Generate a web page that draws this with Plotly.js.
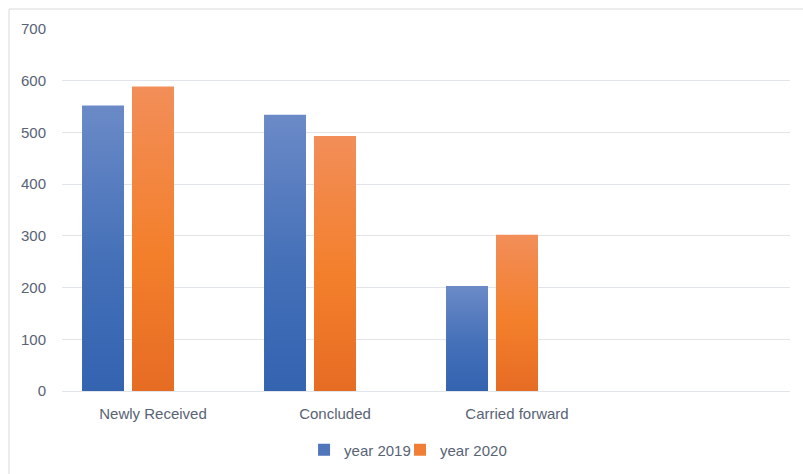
<!DOCTYPE html>
<html>
<head>
<meta charset="utf-8">
<script src="https://cdn.plot.ly/plotly-3.0.1.min.js"></script>
<style>html,body{margin:0;padding:0;background:#fff;}#chart{width:803px;height:474px;}</style>
</head>
<body>
<div id="chart"></div>
<script>
const categories = ["Newly Received", "Concluded", "Carried forward"];
const year2019 = [552, 534, 203];
const year2020 = [589, 493, 302];
const emptySeries = [0, 0, 0];
const seriesNames = ["year 2019", "year 2020"];
const yTicks = [0, 100, 200, 300, 400, 500, 600, 700];

const textColor = "#586374";
const gridColor = "#e1e5ea";
const fontFam = "Liberation Sans, Arial, sans-serif";

const traces = [
  {type: "bar", name: seriesNames[0], x: categories, y: year2019, legend: "legend",
   marker: {color: "#4f75bb", line: {width: 0}}, hoverinfo: "skip"},
  {type: "bar", name: seriesNames[1], x: categories, y: year2020, legend: "legend2",
   marker: {color: "#f07f35", line: {width: 0}}, hoverinfo: "skip"},
  {type: "bar", name: "", x: categories, y: emptySeries, showlegend: false,
   marker: {color: "rgba(0,0,0,0)", line: {width: 0}}, hoverinfo: "skip"}
];

const legendBase = {orientation: "h", xanchor: "left", yref: "container", y: 0.0506, yanchor: "middle",
                    font: {family: fontFam, size: 15, color: textColor}, itemclick: false,
                    bgcolor: "rgba(0,0,0,0)"};

const layout = {
  width: 803, height: 474,
  margin: {l: 62, r: 13, t: 29, b: 83},
  paper_bgcolor: "#ffffff", plot_bgcolor: "#ffffff",
  font: {family: fontFam, size: 15, color: textColor},
  barmode: "group", bargap: 0.176, bargroupgap: 0.16,
  showlegend: true,
  legend: Object.assign({}, legendBase, {x: 0.3325}),
  legend2: Object.assign({}, legendBase, {x: 0.4643}),
  xaxis: {type: "category", categoryarray: categories, categoryorder: "array",
          range: [-0.5, 3.5], showgrid: false, showline: true, linecolor: gridColor, linewidth: 1,
          ticks: "", ticklabelstandoff: 9, zeroline: false,
          tickfont: {family: fontFam, size: 15, color: textColor}},
  yaxis: {range: [0, 700], tickvals: yTicks, ticktext: yTicks.map(String),
          showgrid: true, gridcolor: gridColor, gridwidth: 1, zeroline: false, showline: false,
          ticks: "", ticklabelstandoff: 15,
          tickfont: {family: fontFam, size: 15, color: textColor}},
  shapes: [{type: "rect", xref: "paper", yref: "paper",
            x0: -0.0728, x1: 1.2, y0: -0.5, y1: 1.0552,
            line: {color: "#d9d9d9", width: 1}, fillcolor: "rgba(0,0,0,0)", layer: "below"}]
};

Plotly.newPlot("chart", traces, layout, {staticPlot: true, displayModeBar: false}).then(function(gd){
  const svg = gd.querySelector("svg.main-svg");
  const ns = "http://www.w3.org/2000/svg";
  let defs = svg.querySelector("defs");
  function addGrad(id, stops){
    const g = document.createElementNS(ns, "linearGradient");
    g.setAttribute("id", id); g.setAttribute("x1","0"); g.setAttribute("y1","0");
    g.setAttribute("x2","0"); g.setAttribute("y2","1");
    stops.forEach(function(s){
      const st = document.createElementNS(ns, "stop");
      st.setAttribute("offset", s[0]); st.setAttribute("stop-color", s[1]);
      g.appendChild(st);
    });
    defs.appendChild(g);
  }
  addGrad("gBlue", [["0","#6b8ac7"],["0.55","#4470b8"],["1","#3463b0"]]);
  addGrad("gOrange", [["0","#f28e59"],["0.55","#f37f2b"],["1","#e66c24"]]);
  const tr = gd.querySelectorAll(".barlayer .trace");
  const ids = ["gBlue", "gOrange"];
  tr.forEach(function(t, i){
    if (i < 2) t.querySelectorAll("path").forEach(function(p){ p.style.fill = "url(#" + ids[i] + ")"; });
  });
});
</script>
</body>
</html>
